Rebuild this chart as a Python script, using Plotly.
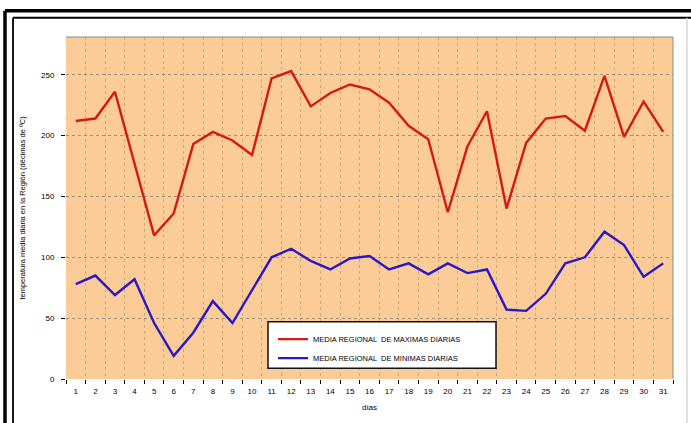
import plotly.graph_objects as go

dias = [str(d) for d in range(1, 32)]
maximas = [212, 214, 236, 178, 118, 136, 193, 203, 196, 184, 247, 253, 224, 235, 242, 238,
           227, 208, 197, 137, 191, 220, 140, 194, 214, 216, 204, 249, 199, 228, 203]
minimas = [78, 85, 69, 82, 46, 19, 38, 64, 46, 73, 100, 107, 97, 90, 99, 101,
           90, 95, 86, 95, 87, 90, 57, 56, 70, 95, 100, 121, 110, 84, 95]
y_ticks = [0, 50, 100, 150, 200, 250]
serie_max = "MEDIA REGIONAL  DE MAXIMAS DIARIAS"
serie_min = "MEDIA REGIONAL  DE MINIMAS DIARIAS"
y_title = "temperatura media diaria en la Región (décimas de ºC)"
x_title = "días"

W, H = 691, 423
L, R, T, B = 66, 18, 37, 40
PW, PH = W - L - R, H - T - B


def px(x):
    return (x - L) / PW


def py(y):
    return (H - B - y) / PH


fig = go.Figure()
fig.add_trace(go.Scatter(x=dias, y=maximas, mode="lines", name=serie_max,
                         line=dict(color="#D41A12", width=2.4), legendgroup="a"))
fig.add_trace(go.Scatter(x=dias, y=minimas, mode="lines", name=serie_min,
                         line=dict(color="#2A18C4", width=2.4), legendgroup="b"))

font = "Liberation Sans, Arial, sans-serif"
shapes = [
    # legend box
    dict(type="rect", xref="paper", yref="paper", x0=px(268), x1=px(496), y0=py(372), y1=py(325),
         fillcolor="white", line=dict(color="#111111", width=1.5), layer="above"),
    # plot border top/right
    dict(type="line", xref="paper", yref="paper", x0=0, x1=1, y0=1, y1=1,
         line=dict(color="#8a8a8a", width=1)),
    dict(type="line", xref="paper", yref="paper", x0=1, x1=1, y0=0, y1=1,
         line=dict(color="#8a8a8a", width=1)),
    # outer frame
    dict(type="line", xref="paper", yref="paper", x0=px(5), x1=px(700), y0=py(10.5), y1=py(10.5),
         line=dict(color="black", width=3.5)),
    dict(type="line", xref="paper", yref="paper", x0=px(5), x1=px(5), y0=py(10.5), y1=py(440),
         line=dict(color="black", width=3.5)),
    dict(type="line", xref="paper", yref="paper", x0=px(13), x1=px(700), y0=py(17.5), y1=py(17.5),
         line=dict(color="black", width=1.8)),
    dict(type="line", xref="paper", yref="paper", x0=px(13), x1=px(13), y0=py(17.5), y1=py(440),
         line=dict(color="black", width=1.8)),
    dict(type="line", xref="paper", yref="paper", x0=px(687), x1=px(687), y0=py(17.5), y1=py(440),
         line=dict(color="#cfcfcf", width=1.2)),
]

fig.update_layout(
    width=W, height=H,
    margin=dict(l=L, r=R, t=T, b=B, pad=0),
    paper_bgcolor="white",
    plot_bgcolor="#FBCB98",
    font=dict(family=font, size=8, color="black"),
    showlegend=True,
    legend=dict(x=px(273), y=py(328), xanchor="left", yanchor="top",
                bgcolor="rgba(0,0,0,0)", borderwidth=0, tracegroupgap=0,
                font=dict(family=font, size=7.5, color="black"), itemwidth=30),
    shapes=shapes,
    xaxis=dict(type="category", range=[-0.5, 30.5], tickson="boundaries",
               ticks="outside", ticklen=4, tickcolor="black", tickwidth=1,
               ticklabelstandoff=6,
               showgrid=True, gridcolor="#c9a87f", griddash="dot", gridwidth=1,
               showline=False, zeroline=False,
               tickfont=dict(family=font, size=8, color="black"),
               title=dict(text=x_title, font=dict(family=font, size=8), standoff=9)),
    yaxis=dict(range=[0, 281], tickvals=y_ticks, ticks="outside", ticklen=4,
               tickcolor="black", tickwidth=1, ticklabelstandoff=5,
               showgrid=True, gridcolor="#a08e74", griddash="dot", gridwidth=1,
               showline=False, zeroline=False,
               tickfont=dict(family=font, size=8, color="black"),
               title=dict(text=y_title, font=dict(family=font, size=7.5), standoff=14)),
)

fig.write_html("out.html", post_script="document.body.style.margin='0';",
               config={"displayModeBar": False})
